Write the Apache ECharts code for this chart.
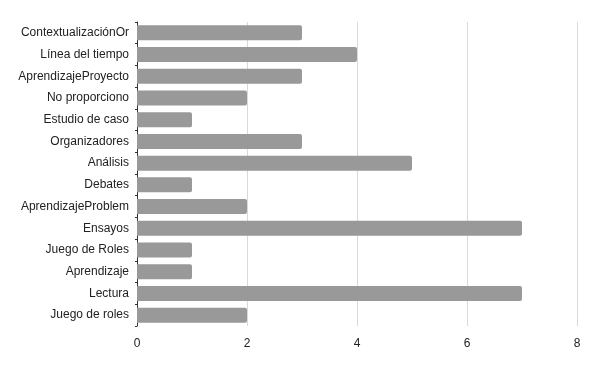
<!DOCTYPE html>
<html><head><meta charset="utf-8">
<script src="https://cdn.jsdelivr.net/npm/echarts@6/dist/echarts.min.js"></script>
<style>html,body{margin:0;padding:0;background:#fff}#c{width:596px;height:369px}</style>
</head><body><div id="c"></div>
<script>
var categories = ["ContextualizaciónOr","Línea del tiempo","AprendizajeProyecto","No proporciono","Estudio de caso","Organizadores","Análisis","Debates","AprendizajeProblem","Ensayos","Juego de Roles","Aprendizaje","Lectura","Juego de roles"];
var values = [3,4,3,2,1,3,5,1,2,7,1,1,7,2];
var xTicks = [0,2,4,6,8];
var chart = echarts.init(document.getElementById('c'));
chart.setOption({
  animation:false,
  grid:{left:137,right:19,top:22,bottom:43},
  xAxis:{type:'value',min:xTicks[0],max:xTicks[xTicks.length-1],interval:2,
    axisLine:{show:false},axisTick:{show:false},
    axisLabel:{color:'#222',fontSize:12,fontFamily:'Liberation Sans, Arial',margin:12},
    splitLine:{show:true,lineStyle:{color:'#d9d9d9',width:1}}},
  yAxis:{type:'category',data:categories,inverse:true,
    axisLine:{show:true,lineStyle:{color:'#333',width:1}},
    axisTick:{show:true,length:2,lineStyle:{color:'#333'}},
    axisLabel:{color:'#222',fontSize:12,fontFamily:'Liberation Sans, Arial',margin:8}},
  series:[{type:'bar',data:values,barWidth:15,
    itemStyle:{color:'#999999',borderRadius:[0,2,2,0]}}]
});
</script></body></html>
